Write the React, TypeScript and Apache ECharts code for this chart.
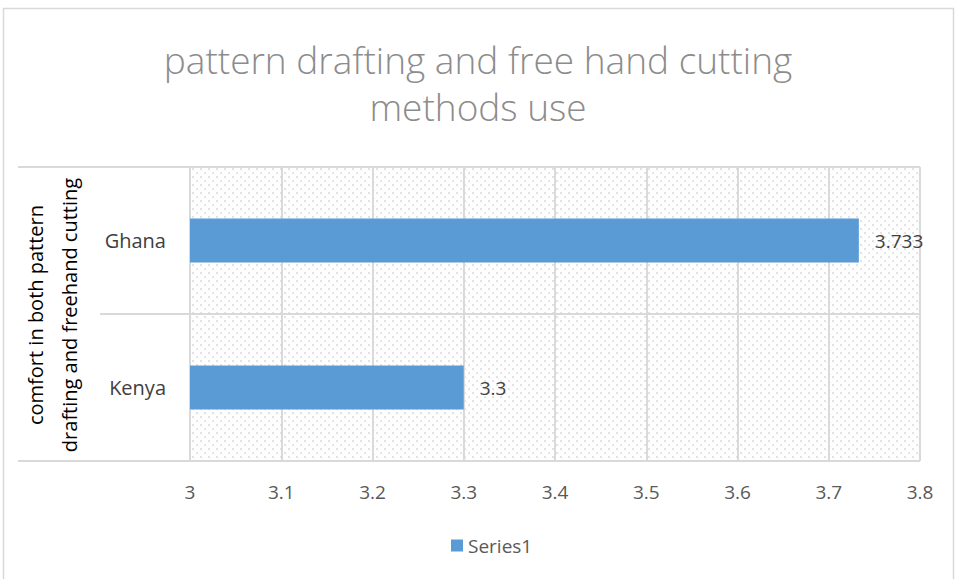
import React, { useEffect, useRef } from "react";
import * as echarts from "echarts";

// Chart data
const categories = ["Kenya", "Ghana"];
const seriesName = "Series1";
const seriesValues = [3.3, 3.733];
const axisTicks = ["3", "3.1", "3.2", "3.3", "3.4", "3.5", "3.6", "3.7", "3.8"];
const titleText = "pattern drafting and free hand cutting\nmethods use";
const axisTitle = "comfort in both pattern\ndrafting and freehand cutting";

const FONT = "'Open Sans', 'Noto Sans', sans-serif";
const BAR_COLOR = "#5b9bd5";

// Light diagonal dotted fill used behind the plot area
function makePattern(): string {
  const c = document.createElement("canvas");
  c.width = 8;
  c.height = 8;
  const ctx = c.getContext("2d")!;
  ctx.fillStyle = "#ffffff";
  ctx.fillRect(0, 0, 8, 8);
  ctx.fillStyle = "#e2e2e2";
  ctx.fillRect(0, 0, 2, 2);
  ctx.fillRect(4, 4, 2, 2);
  ctx.fillStyle = "#efefef";
  ctx.fillRect(2, 2, 1, 1);
  ctx.fillRect(6, 6, 1, 1);
  return c.toDataURL();
}

export default function App() {
  const ref = useRef<HTMLDivElement>(null);

  useEffect(() => {
    if (!ref.current) return;
    const chart = echarts.init(ref.current, null, { renderer: "svg" });
    const patternImg = makePattern();

    chart.setOption({
      animation: false,
      backgroundColor: "#ffffff",
      title: {
        text: titleText,
        left: "center",
        top: 31,
        textStyle: {
          fontFamily: FONT,
          fontSize: 37,
          fontWeight: 300,
          color: "#8c8c8c",
          lineHeight: 47,
        },
      },
      legend: {
        bottom: 19,
        left: 446,
        icon: "rect",
        itemWidth: 12,
        itemHeight: 12,
        itemGap: 6,
        textStyle: { fontFamily: FONT, fontSize: 19, color: "#595959" },
        data: [seriesName],
      },
      grid: {
        left: 190,
        top: 167,
        width: 730,
        height: 294,
        show: true,
        borderWidth: 0,
        backgroundColor: { image: patternImg, repeat: "repeat" } as any,
      },
      xAxis: {
        type: "value",
        min: 3,
        max: 3.8,
        interval: 0.1,
        axisLine: { show: false },
        axisTick: { show: false },
        splitLine: { show: true, lineStyle: { color: "#d9d9d9", width: 2 } },
        axisLabel: {
          margin: 21,
          fontFamily: FONT,
          fontSize: 19,
          color: "#595959",
          formatter: (v: number) => {
            const idx = Math.round((v - 3) * 10);
            return axisTicks[idx] ?? "";
          },
        },
      },
      yAxis: {
        type: "category",
        data: categories,
        axisLine: { show: true, lineStyle: { color: "#d9d9d9", width: 2 } },
        axisTick: { show: true, length: 90, lineStyle: { color: "#d9d9d9", width: 2 } },
        splitLine: { show: true, lineStyle: { color: "#d9d9d9", width: 2 } },
        axisLabel: {
          margin: 24,
          fontFamily: FONT,
          fontSize: 20,
          color: "#404040",
        },
      },
      series: [
        {
          name: seriesName,
          type: "bar",
          data: seriesValues,
          barWidth: "30%",
          itemStyle: { color: BAR_COLOR },
          label: {
            show: true,
            position: "right",
            distance: 16,
            fontFamily: FONT,
            fontSize: 19,
            color: "#404040",
          },
        },
      ],
      graphic: [
        // outer chart frame
        {
          type: "rect",
          shape: { x: 3.5, y: 8.5, width: 950, height: 575 },
          style: { fill: "none", stroke: "#d9d9d9", lineWidth: 1.5 },
          silent: true,
        },
        // outer divider lines for the grouped category axis
        {
          type: "line",
          shape: { x1: 18, y1: 167, x2: 101, y2: 167 },
          style: { stroke: "#d9d9d9", lineWidth: 2 },
          silent: true,
        },
        {
          type: "line",
          shape: { x1: 18, y1: 461, x2: 101, y2: 461 },
          style: { stroke: "#d9d9d9", lineWidth: 2 },
          silent: true,
        },
        {
          type: "text",
          x: 52,
          y: 315,
          rotation: Math.PI / 2,
          style: {
            text: axisTitle,
            fontFamily: FONT,
            fontSize: 20,
            lineHeight: 34,
            fill: "#000000",
            align: "center",
            verticalAlign: "middle",
          },
          silent: true,
        },
      ],
    });

    return () => chart.dispose();
  }, []);

  return (
    <div
      ref={ref}
      style={{ position: "fixed", left: 0, top: 0, width: 956, height: 579 }}
    />
  );
}
